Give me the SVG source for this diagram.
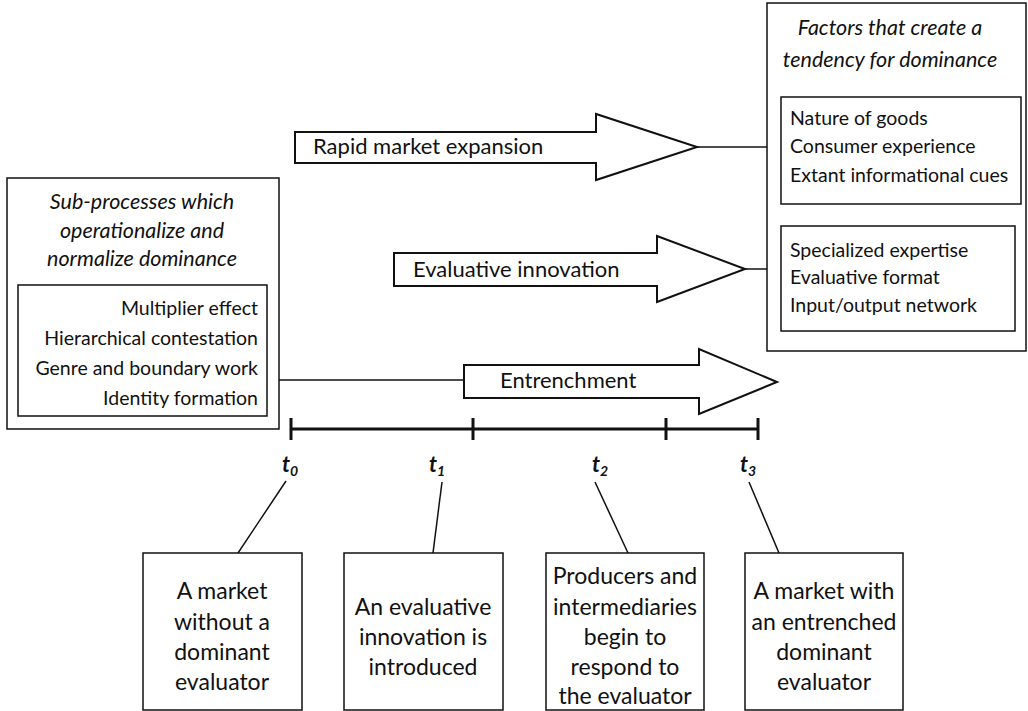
<svg xmlns="http://www.w3.org/2000/svg" width="1028" height="711" viewBox="0 0 1028 711">
<style>
text{font-family:Lato,"Liberation Sans",sans-serif;fill:#111;}
.t{font-size:19.5px;}
.a{font-size:22px;}
.it{font-size:21.5px;font-style:italic;text-anchor:middle;}
.b{font-size:23px;text-anchor:middle;}
.box{fill:#fff;stroke:#111;stroke-width:1.5;}
.arr{fill:#fff;stroke:#111;stroke-width:2;stroke-linejoin:miter;}
.ln{stroke:#111;stroke-width:1.5;fill:none;}
.tl{stroke:#111;stroke-width:3;fill:none;}
.lab{font-size:22px;font-style:italic;font-weight:bold;text-anchor:middle;}
</style>
<rect width="1028" height="711" fill="#fff"/>
<g id="connectors">
<line class="ln" x1="697" y1="147" x2="781" y2="147"/>
<line class="ln" x1="745" y1="269" x2="781" y2="269"/>
<line class="ln" x1="279" y1="380" x2="464" y2="380"/>
<line class="ln" x1="286" y1="481" x2="238" y2="553"/>
<line class="ln" x1="442" y1="482" x2="433" y2="553"/>
<line class="ln" x1="595" y1="482" x2="628" y2="553"/>
<line class="ln" x1="749" y1="482" x2="779" y2="553"/>
</g>
<g id="factors">
<rect class="box" x="767" y="3" width="259" height="348"/>
<text class="it" x="890" y="35">Factors that create a</text>
<text class="it" x="890" y="67">tendency for dominance</text>
</g>
<g id="factors-goods">
<rect class="box" x="781" y="97" width="240" height="107"/>
<text class="t" x="790" y="125">Nature of goods</text>
<text class="t" x="790" y="153">Consumer experience</text>
<text class="t" x="790" y="182">Extant informational cues</text>
</g>
<g id="factors-evaluator">
<rect class="box" x="781" y="226" width="234" height="105"/>
<text class="t" x="790" y="257">Specialized expertise</text>
<text class="t" x="790" y="284">Evaluative format</text>
<text class="t" x="790" y="312">Input/output network</text>
</g>
<g id="subprocesses">
<rect class="box" x="7" y="178" width="272" height="251"/>
<text class="it" x="142" y="209">Sub-processes which</text>
<text class="it" x="142" y="238">operationalize and</text>
<text class="it" x="142" y="266">normalize dominance</text>
</g>
<g id="subprocesses-list">
<rect class="box" x="18" y="285" width="249" height="131"/>
<text class="t" x="258" y="315" text-anchor="end">Multiplier effect</text>
<text class="t" x="258" y="345" text-anchor="end">Hierarchical contestation</text>
<text class="t" x="258" y="375" text-anchor="end">Genre and boundary work</text>
<text class="t" x="258" y="405" text-anchor="end">Identity formation</text>
</g>
<g id="arrow-expansion">
<polygon class="arr" points="295,132 596,132 596,114 697,147 596,180 596,163 295,163"/>
<text class="a" x="313" y="154">Rapid market expansion</text>
</g>
<g id="arrow-innovation">
<polygon class="arr" points="394,253 657,253 657,236 745,269 657,302 657,286 394,286"/>
<text class="a" x="413" y="277">Evaluative innovation</text>
</g>
<g id="arrow-entrenchment">
<polygon class="arr" points="464,365 699,365 699,349 777,382 699,414 699,398 464,398"/>
<text class="a" x="500" y="388">Entrenchment</text>
</g>
<g id="timeline">
<line class="tl" x1="291" y1="429" x2="758" y2="429"/>
<line class="tl" x1="291" y1="418" x2="291" y2="440"/>
<line class="tl" x1="473" y1="418" x2="473" y2="440"/>
<line class="tl" x1="666" y1="418" x2="666" y2="440"/>
<line class="tl" x1="758" y1="418" x2="758" y2="440"/>
<text class="lab" x="290" y="472">t<tspan font-size="14" dy="4">0</tspan></text>
<text class="lab" x="437" y="472">t<tspan font-size="14" dy="4">1</tspan></text>
<text class="lab" x="600" y="472">t<tspan font-size="14" dy="4">2</tspan></text>
<text class="lab" x="748" y="472">t<tspan font-size="14" dy="4">3</tspan></text>
</g>
<g id="t0-box">
<rect class="box" x="143" y="553" width="159" height="157"/>
<text class="b" x="222" y="599">A market</text>
<text class="b" x="222" y="630">without a</text>
<text class="b" x="222" y="660">dominant</text>
<text class="b" x="222" y="690">evaluator</text>
</g>
<g id="t1-box">
<rect class="box" x="344" y="553" width="159" height="157"/>
<text class="b" x="423" y="615">An evaluative</text>
<text class="b" x="423" y="645">innovation is</text>
<text class="b" x="423" y="675">introduced</text>
</g>
<g id="t2-box">
<rect class="box" x="546" y="553" width="158" height="157"/>
<text class="b" x="625" y="584">Producers and</text>
<text class="b" x="625" y="615">intermediaries</text>
<text class="b" x="625" y="645">begin to</text>
<text class="b" x="625" y="675">respond to</text>
<text class="b" x="625" y="704">the evaluator</text>
</g>
<g id="t3-box">
<rect class="box" x="745" y="553" width="158" height="157"/>
<text class="b" x="824" y="599">A market with</text>
<text class="b" x="824" y="630">an entrenched</text>
<text class="b" x="824" y="660">dominant</text>
<text class="b" x="824" y="690">evaluator</text>
</g>
</svg>
